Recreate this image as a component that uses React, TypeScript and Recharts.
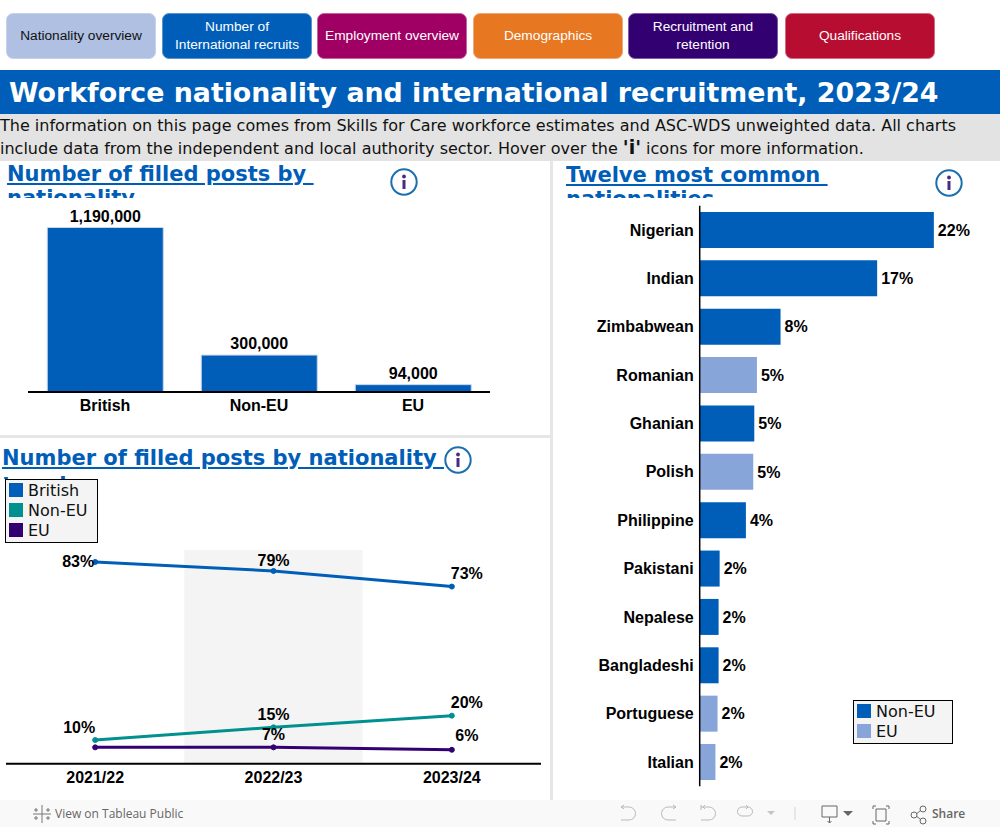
import React from "react";
import { BarChart, Bar, LineChart, Line, XAxis, YAxis, Cell, LabelList, ReferenceArea } from "recharts";

const BLUE = "#005EB8";
const TEAL = "#00908F";
const PURPLE = "#330072";
const LIGHT = "#88A5DA";
const SANS = "'Liberation Sans', Arial, sans-serif";
const DEJAVU = "'DejaVu Sans', sans-serif";

const navLabels = ["Nationality overview", "Number of\nInternational recruits", "Employment overview", "Demographics", "Recruitment and\nretention", "Qualifications"];
const navLefts = [6, 162, 317, 473, 628, 785];
const navFills = ["#AFC0E3", BLUE, "#A00064", "#E87722", PURPLE, "#B70D30"];
const navBorders = ["#C5D2EC", "#5B95D0", "#C564A0", "#F0A878", "#7C5CA5", "#D66A80"];

const nationalityGroups = ["British", "Non-EU", "EU"];
const nationalityPosts = [1190000, 300000, 94000];

const years = ["2021/22", "2022/23", "2023/24"];
const yearIndex = [0, 1, 2];
const britishShare = [82.7, 79, 72.6];
const nonEuShare = [9.7, 14.9, 19.7];
const euShare = [6.7, 6.7, 5.7];

const commonNationalities = ["Nigerian", "Indian", "Zimbabwean", "Romanian", "Ghanian", "Polish", "Philippine", "Pakistani", "Nepalese", "Bangladeshi", "Portuguese", "Italian"];
const commonShares = [22.3, 16.9, 7.7, 5.45, 5.2, 5.1, 4.4, 1.9, 1.8, 1.8, 1.7, 1.5];
const commonRegions = ["Non-EU", "Non-EU", "Non-EU", "EU", "Non-EU", "EU", "Non-EU", "Non-EU", "Non-EU", "Non-EU", "EU", "EU"];

const postsRows = nationalityGroups.map((name, i) => ({ name, posts: nationalityPosts[i] }));
const trendRows = yearIndex.map((i) => ({ i, British: britishShare[i], NonEU: nonEuShare[i], EU: euShare[i] }));
const commonRows = commonNationalities.map((name, i) => ({ name, share: commonShares[i], region: commonRegions[i] }));

const labelBold = { fontFamily: SANS, fontWeight: 700, fontSize: 16, fill: "#000" };

type Place = [number, number] | null;
const makeLabel = (places: Place[], values: number[]) => (p: any) => {
  const place = places[p.index];
  if (!place) return <g key={p.index} />;
  return (
    <text key={p.index} x={p.x + place[0]} y={p.y + place[1]} textAnchor="middle" dominantBaseline="central" style={labelBold as any}>
      {Math.round(values[p.index])}%
    </text>
  );
};

const Info = ({ x, y }: { x: number; y: number }) => (
  <svg style={{ position: "absolute", left: x - 15, top: y - 15 }} width={30} height={30}>
    <circle cx={15} cy={15} r={12.7} fill="#fff" stroke="#1B6FAE" strokeWidth={2} />
    <rect x={13.5} y={13} width={3} height={9} fill="#4A2A85" />
    <circle cx={15} cy={9.5} r={1.9} fill="#4A2A85" />
  </svg>
);

const Title = ({ x, y, w, h, lh, text }: { x: number; y: number; w: number; h: number; lh: number; text: string }) => (
  <div style={{ position: "absolute", left: x, top: y, width: w, height: h, overflow: "hidden", color: BLUE, fontFamily: DEJAVU, fontWeight: 700, fontSize: 21, lineHeight: `${lh}px`, textDecoration: "underline", whiteSpace: "pre" }}>
    {text}
  </div>
);

const Legend2 = ({ x, y, w, items }: { x: number; y: number; w: number; items: [string, string][] }) => (
  <div style={{ position: "absolute", left: x, top: y, width: w, height: items.length * 20 + 2, background: "#F4F4F4", border: "1px solid #000", boxSizing: "content-box", fontFamily: DEJAVU, fontSize: 16, color: "#111" }}>
    {items.map(([name, color], i) => (
      <div key={name} style={{ position: "absolute", left: 3, top: 3 + i * 20, height: 14, display: "flex", alignItems: "center" }}>
        <span style={{ width: 14, height: 14, background: color, display: "inline-block", marginRight: 5 }} />
        <span>{name}</span>
      </div>
    ))}
  </div>
);

const ToolIcons = () => (
  <svg style={{ position: "absolute", left: 0, top: 800 }} width={1000} height={27} fill="none" stroke="#B9B9B9" strokeWidth={1}>
    <g stroke="#777">
      <path d="M42 5v18M33 14h18M36 8v4M34 10h4M48 8v4M46 10h4M36 16v4M34 18h4M48 16v4M46 18h4" />
    </g>
    <path d="M621 7h8a6.5 6.5 0 0 1 0 13h-8M621 7l3-2M621 7l3 2" />
    <path d="M676 7h-8a6.5 6.5 0 0 0 0 13h8M676 7l-3-2M676 7l-3 2" />
    <path d="M701 5v5M701 7h8a6.5 6.5 0 0 1 0 13h-8M703 7l2-2M703 7l2 2" />
    <path d="M748 7h-6a4.5 4.5 0 0 0 0 9h6a4.5 4.5 0 0 0 0-9M748 7l-2-2M748 7l-2 2" />
    <path d="M767 11h8l-4 4z" fill="#C4C4C4" stroke="none" />
    <path d="M795 7v13" stroke="#D5D5D5" />
    <g stroke="#666">
      <path d="M822 6h15v11h-15zM829.5 17v6M827.5 21l2 2 2-2" />
      <path d="M843 11h10l-5 5z" fill="#666" stroke="none" />
      <path d="M873 9v-3h3M886 6h3v3M889 21v3h-3M876 24h-3v-3M876 9h10v12h-10z" />
      <circle cx={914} cy={15} r={3} />
      <circle cx={923} cy={9} r={3} />
      <circle cx={923} cy={21} r={3} />
      <path d="M917 13.500l3.500-3M917 16.500l3.500 3" />
    </g>
  </svg>
);

export default function App() {
  return (
    <div style={{ position: "absolute", left: 0, top: 0, width: 1000, height: 827, overflow: "hidden", background: "#fff" }}>
      {navLabels.map((label, i) => (
        <div key={label} style={{ position: "absolute", left: navLefts[i], top: 13, width: 150, height: 46, boxSizing: "border-box", borderRadius: 7, background: navFills[i], border: `1px solid ${navBorders[i]}`, color: i === 0 ? "#111" : "#fff", fontFamily: SANS, fontSize: 13.7, lineHeight: "18px", display: "flex", alignItems: "center", justifyContent: "center", textAlign: "center", whiteSpace: "pre-line" }}>
          {label}
        </div>
      ))}

      <div style={{ position: "absolute", left: 0, top: 70, width: 1000, height: 44, background: BLUE, color: "#fff", fontFamily: DEJAVU, fontWeight: 700, fontSize: 26.8, lineHeight: "45px", paddingLeft: 9, boxSizing: "border-box", whiteSpace: "nowrap" }}>
        Workforce nationality and international recruitment, 2023/24
      </div>
      <div style={{ position: "absolute", left: 0, top: 114, width: 1000, height: 47, background: "#E3E3E3", color: "#111", fontFamily: DEJAVU, fontSize: 16, lineHeight: "23px", whiteSpace: "nowrap" }}>
        The information on this page comes from Skills for Care workforce estimates and ASC-WDS unweighted data. All charts<br />
        include data from the independent and local authority sector. Hover over the <b style={{ fontSize: 19, lineHeight: "20px" }}>'i'</b> icons for more information.
      </div>

      <div style={{ position: "absolute", left: 550, top: 161, width: 3, height: 639, background: "#E6E6E6" }} />
      <div style={{ position: "absolute", left: 0, top: 435, width: 550, height: 3, background: "#E6E6E6" }} />

      <Title x={7} y={162} w={375} h={36} lh={24} text={"Number of filled posts by \nnationality"} />
      <Title x={566} y={163} w={340} h={35} lh={24} text={"Twelve most common \nnationalities"} />
      <Title x={2} y={445} w={445} h={34} lh={27} text={"Number of filled posts by nationality \ntrend"} />
      <Info x={404} y={182} />
      <Info x={949} y={183} />
      <Info x={458} y={460} />

      <div style={{ position: "absolute", left: 0, top: 200 }}>
        <BarChart width={500} height={230} data={postsRows} margin={{ top: 27.500, right: 10, bottom: 8, left: 28 }} barCategoryGap="12.500%">
          <XAxis dataKey="name" height={30} axisLine={{ stroke: "#000", strokeWidth: 2 }} tickLine={false} tick={labelBold} tickMargin={2} interval={0} />
          <YAxis hide domain={[42700, 1190000]} allowDataOverflow />
          <Bar dataKey="posts" fill={BLUE} stroke="#C9D6EA" strokeWidth={1} isAnimationActive={false}>
            <LabelList dataKey="posts" position="top" offset={6} formatter={(v: any) => Number(v).toLocaleString("en-GB")} style={labelBold as any} />
          </Bar>
        </BarChart>
      </div>

      <div style={{ position: "absolute", left: 0, top: 520 }}>
        <LineChart width={552} height={280} data={trendRows} margin={{ top: 30, right: 11, bottom: 6.300, left: 6 }}>
          <XAxis dataKey="i" type="number" domain={[-0.5, 2.5]} ticks={yearIndex} tickFormatter={(v: any) => years[v]} height={30} axisLine={{ stroke: "#000", strokeWidth: 2 }} tickLine={false} tick={labelBold} tickMargin={2} interval={0} />
          <YAxis hide domain={[0, 87.6]} />
          <ReferenceArea x1={0.5} x2={1.5} y1={0} y2={87.6} fill="#F4F4F4" fillOpacity={1} stroke="none" />
          <Line dataKey="British" stroke={BLUE} strokeWidth={3} dot={{ r: 2.5, fill: BLUE, stroke: BLUE, strokeWidth: 1 }} isAnimationActive={false} label={makeLabel([[-17, 0], [0, -10], [15, -13]], britishShare)} />
          <Line dataKey="NonEU" stroke={TEAL} strokeWidth={3} dot={{ r: 2.5, fill: TEAL, stroke: TEAL, strokeWidth: 1 }} isAnimationActive={false} label={makeLabel([[-16, -13], [0, -13], [15, -13]], nonEuShare)} />
          <Line dataKey="EU" stroke={PURPLE} strokeWidth={3} dot={{ r: 2.5, fill: PURPLE, stroke: PURPLE, strokeWidth: 1 }} isAnimationActive={false} label={makeLabel([null, [0, -13], [15, -14]], euShare)} />
        </LineChart>
      </div>
      <Legend2 x={5} y={479} w={91} items={[["British", BLUE], ["Non-EU", TEAL], ["EU", PURPLE]]} />

      <div style={{ position: "absolute", left: 552, top: 190 }}>
        <BarChart layout="vertical" width={448} height={610} data={commonRows} margin={{ top: 15.800, right: 6.300, bottom: 13.800, left: 0 }} barCategoryGap="12.800%">
          <XAxis type="number" hide domain={[0, 28]} />
          <YAxis type="category" dataKey="name" width={147.700} axisLine={{ stroke: "#000", strokeWidth: 1.5 }} tickLine={false} tick={labelBold} tickMargin={0} interval={0} />
          <Bar dataKey="share" isAnimationActive={false}>
            {commonRows.map((r) => (
              <Cell key={r.name} fill={r.region === "EU" ? LIGHT : BLUE} />
            ))}
            <LabelList dataKey="share" position="right" offset={4} formatter={(v: any) => `${Math.round(Number(v))}%`} style={labelBold as any} />
          </Bar>
        </BarChart>
      </div>
      <Legend2 x={853} y={700} w={98} items={[["Non-EU", BLUE], ["EU", LIGHT]]} />

      <div style={{ position: "absolute", left: 0, top: 800, width: 1000, height: 27, background: "#F9F9F9" }} />
      <ToolIcons />
      <div style={{ position: "absolute", left: 55, top: 800, height: 27, lineHeight: "27px", fontFamily: "'Open Sans', sans-serif", fontSize: 12, color: "#666" }}>View on Tableau Public</div>
      <div style={{ position: "absolute", left: 932, top: 800, height: 27, lineHeight: "27px", fontFamily: "'Open Sans', sans-serif", fontWeight: 600, fontSize: 12, color: "#666" }}>Share</div>
    </div>
  );
}
